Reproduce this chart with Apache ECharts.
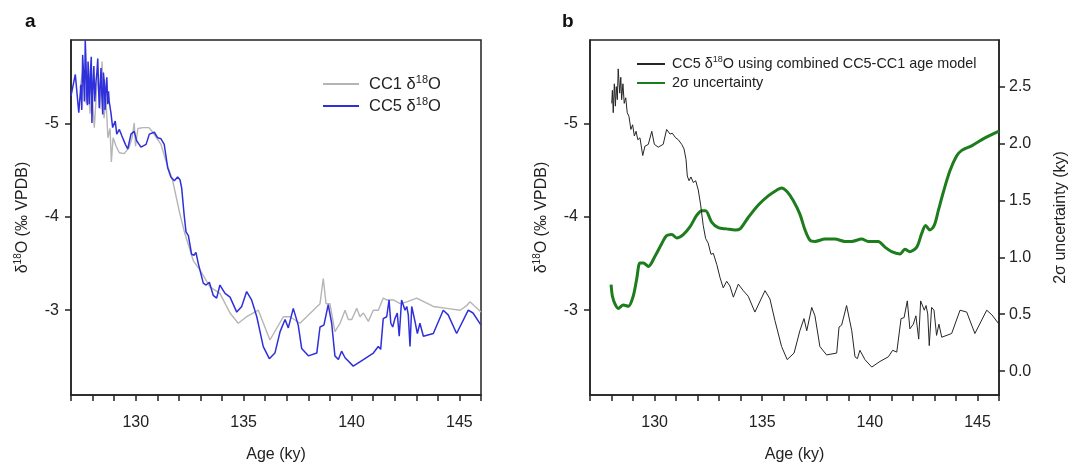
<!DOCTYPE html>
<html>
<head>
<meta charset="utf-8">
<script src="https://cdn.jsdelivr.net/npm/echarts@6/dist/echarts.min.js"></script>
<style>
html,body{margin:0;padding:0;background:#fff;}
#chart{width:1070px;height:468px;}
</style>
</head>
<body>
<div id="chart"></div>
<script>
// ---- Panel a: CC1 (grey) ----
const cc1Age = [127.42,127.56,127.70,127.79,127.88,127.97,128.08,128.16,128.25,128.34,128.44,128.53,128.62,128.71,128.81,128.87,128.95,129.09,129.24,129.47,129.70,129.83,129.93,129.99,130.10,130.34,130.61,130.79,131.17,131.40,131.71,132.05,132.28,132.67,132.98,133.44,133.90,134.37,134.75,135.14,135.68,136.22,136.84,137.15,137.61,138.54,138.69,138.82,139.00,139.23,139.47,139.70,139.85,140.01,140.24,140.39,140.55,140.78,141.01,141.24,141.47,141.63,141.94,142.25,142.56,143.02,143.79,144.41,145.03,145.34,145.49,146.00];
const cc1D18O = [-5.38,-5.59,-5.22,-5.48,-5.11,-5.32,-4.96,-5.27,-5.54,-5.16,-5.67,-5.06,-5.27,-4.85,-4.95,-4.59,-4.85,-4.76,-4.69,-4.68,-4.75,-4.85,-5.01,-4.76,-4.95,-4.96,-4.96,-4.91,-4.78,-4.60,-4.39,-4.03,-3.82,-3.53,-3.43,-3.25,-3.18,-2.97,-2.86,-2.93,-3.00,-2.68,-2.93,-2.93,-2.86,-3.07,-3.34,-3.07,-3.07,-2.77,-2.86,-3.00,-2.90,-2.90,-3.02,-2.93,-2.97,-2.88,-3.00,-3.00,-3.13,-3.11,-3.11,-3.07,-3.09,-3.13,-3.04,-3.02,-3.00,-3.05,-3.09,-2.98];

// ---- Panel a: CC5 (blue) ----
const cc5Age = [127.00,127.20,127.36,127.46,127.50,127.54,127.58,127.62,127.64,127.66,127.70,127.73,127.76,127.79,127.82,127.85,127.88,127.91,127.94,127.97,128.00,128.03,128.06,128.10,128.13,128.16,128.20,128.24,128.28,128.31,128.35,128.39,128.43,128.47,128.50,128.54,128.58,128.62,128.66,128.70,128.74,128.77,128.85,128.93,129.05,129.12,129.24,129.36,129.52,129.63,129.78,129.93,130.04,130.24,130.48,130.63,130.86,131.02,131.17,131.32,131.48,131.63,131.79,131.94,132.05,132.13,132.24,132.33,132.44,132.59,132.70,132.79,132.90,133.13,133.26,133.41,133.59,133.75,133.90,134.14,134.37,134.68,134.91,135.14,135.37,135.61,135.91,136.19,136.45,136.69,136.92,137.07,137.30,137.53,137.69,138.00,138.39,138.54,138.72,138.92,139.08,139.23,139.39,139.54,139.70,140.08,140.55,141.01,141.24,141.35,141.47,141.63,141.74,141.82,141.91,142.01,142.12,142.21,142.32,142.40,142.48,142.56,142.63,142.71,142.79,142.94,143.05,143.17,143.33,143.79,144.25,144.48,144.87,145.41,145.63,146.00];
const cc5D18O = [-5.30,-5.53,-5.12,-5.42,-5.15,-5.74,-5.55,-5.24,-5.45,-5.90,-5.62,-5.31,-5.20,-5.67,-5.52,-5.21,-5.35,-5.60,-5.72,-5.01,-5.30,-5.49,-5.62,-5.24,-5.35,-5.46,-5.55,-5.70,-5.38,-5.17,-5.40,-5.60,-5.30,-5.10,-5.55,-5.46,-5.15,-5.39,-5.50,-5.21,-5.35,-5.24,-5.12,-4.96,-5.03,-4.89,-4.94,-4.87,-4.78,-4.73,-4.89,-4.92,-4.82,-4.75,-4.78,-4.89,-4.91,-4.85,-4.84,-4.78,-4.53,-4.43,-4.39,-4.43,-4.40,-4.31,-4.03,-3.84,-3.80,-3.60,-3.59,-3.62,-3.50,-3.29,-3.27,-3.30,-3.16,-3.13,-3.27,-3.18,-3.14,-2.98,-3.04,-3.20,-3.11,-2.93,-2.61,-2.48,-2.54,-2.77,-2.90,-2.81,-3.02,-2.84,-2.59,-2.51,-2.54,-2.82,-2.84,-3.06,-2.86,-2.51,-2.47,-2.56,-2.49,-2.40,-2.47,-2.54,-2.61,-2.58,-2.91,-2.93,-3.11,-2.86,-2.82,-2.91,-2.97,-2.72,-3.11,-3.13,-3.00,-3.04,-2.95,-2.61,-3.04,-2.88,-2.75,-2.86,-2.72,-2.75,-3.00,-2.95,-2.75,-3.00,-2.97,-2.84];

// ---- Panel b: CC5 on combined CC5-CC1 age model (black) ----
const combAge = [128.01,128.04,128.08,128.13,128.18,128.22,128.27,128.31,128.38,128.43,128.47,128.53,128.59,128.66,128.73,128.81,128.90,128.98,129.06,129.14,129.22,129.32,129.45,129.55,129.71,129.87,129.99,130.17,130.40,130.56,130.72,130.82,130.98,131.10,131.26,131.37,131.46,131.52,131.60,131.69,131.80,131.91,132.03,132.14,132.26,132.37,132.49,132.62,132.73,132.89,133.04,133.19,133.35,133.50,133.66,133.89,134.12,134.35,134.66,135.13,135.36,135.59,135.90,136.16,136.48,136.75,136.94,137.07,137.30,137.45,137.68,137.99,138.46,138.57,138.69,138.92,139.16,139.31,139.42,139.54,139.77,140.09,140.47,140.86,141.06,141.25,141.45,141.59,141.74,141.86,142.02,142.14,142.27,142.36,142.45,142.53,142.61,142.69,142.76,142.87,142.98,143.10,143.21,143.34,143.80,144.19,144.50,144.88,145.43,145.67,146.00];
const combD18O = [-5.22,-5.36,-5.12,-5.43,-5.19,-5.40,-5.26,-5.59,-5.33,-5.50,-5.26,-5.43,-5.22,-5.28,-5.12,-5.08,-4.94,-4.99,-4.87,-4.92,-4.83,-4.85,-4.66,-4.76,-4.78,-4.92,-4.78,-4.75,-4.78,-4.94,-4.89,-4.90,-4.85,-4.83,-4.78,-4.73,-4.62,-4.44,-4.39,-4.43,-4.37,-4.39,-4.29,-4.13,-3.91,-3.77,-3.72,-3.60,-3.61,-3.49,-3.35,-3.24,-3.31,-3.26,-3.14,-3.28,-3.21,-3.15,-2.98,-3.21,-3.12,-2.89,-2.61,-2.47,-2.54,-2.78,-2.91,-2.78,-3.03,-2.94,-2.61,-2.52,-2.54,-2.82,-2.84,-3.05,-2.78,-2.50,-2.48,-2.57,-2.47,-2.39,-2.45,-2.50,-2.57,-2.55,-2.91,-2.92,-3.10,-2.80,-2.85,-2.94,-2.69,-3.10,-3.12,-3.00,-3.05,-2.96,-2.62,-3.03,-3.00,-2.73,-2.85,-2.71,-2.75,-3.00,-2.98,-2.75,-3.00,-2.95,-2.85];

// ---- Panel b: 2 sigma age uncertainty (green) ----
const uncAge = [127.98,128.04,128.16,128.31,128.55,128.78,129.01,129.17,129.32,129.48,129.71,130.02,130.33,130.56,130.80,131.03,131.33,131.65,131.96,132.19,132.37,132.65,132.96,133.35,133.74,133.97,134.35,134.82,135.28,135.67,135.90,136.14,136.44,136.75,136.99,137.22,137.45,137.92,138.38,138.84,139.16,139.62,139.93,140.39,140.70,141.01,141.40,141.63,141.86,142.18,142.41,142.59,142.79,142.99,143.18,143.41,143.72,144.03,144.27,144.73,145.35,146.00];
const uncVal = [0.76,0.66,0.59,0.55,0.58,0.57,0.66,0.81,0.95,0.95,0.92,1.01,1.12,1.19,1.20,1.17,1.20,1.27,1.37,1.41,1.41,1.31,1.26,1.25,1.24,1.25,1.35,1.46,1.54,1.59,1.61,1.58,1.50,1.38,1.24,1.15,1.14,1.16,1.16,1.14,1.14,1.16,1.14,1.14,1.09,1.05,1.03,1.07,1.05,1.09,1.21,1.28,1.24,1.28,1.41,1.57,1.76,1.89,1.94,1.98,2.05,2.11];

// ---- Tick labels ----
const ageTickLabels = [130, 135, 140, 145];
const ageMinorTicks = [127,128,129,130,131,132,133,134,135,136,137,138,139,140,141,142,143,144,145,146];
const d18OTickLabels = [-5, -4, -3];
const uncTickLabels = [0, 0.5, 1.0, 1.5, 2.0, 2.5];

const zip = (a, b) => a.map((v, i) => [v, b[i]]);
const FONT = '"Liberation Sans", Arial, sans-serif';
const INK = '#222';
const supRich = (fs) => ({ s: { fontSize: fs, verticalAlign: 'top', lineHeight: fs, fontFamily: FONT, color: INK } });

function xAxisFor(gi) {
  return {
    type: 'value', gridIndex: gi, min: 127, max: 146,
    axisLine: { show: true, onZero: false, lineStyle: { color: INK, width: 1.5 } },
    axisTick: { show: true, customValues: ageMinorTicks, length: 6, lineStyle: { color: INK, width: 1.5 } },
    axisLabel: { customValues: ageTickLabels, fontSize: 16, color: INK, fontFamily: FONT, margin: 20 },
    splitLine: { show: false },
    name: 'Age (ky)', nameLocation: 'middle', nameGap: 52,
    nameTextStyle: { fontSize: 16, color: INK, fontFamily: FONT }
  };
}
function d18OAxisFor(gi) {
  return {
    type: 'value', gridIndex: gi, inverse: true, min: -5.9, max: -2.09, position: 'left',
    axisLine: { show: true, onZero: false, lineStyle: { color: INK, width: 1.5 } },
    axisTick: { show: true, customValues: d18OTickLabels, length: 6, lineStyle: { color: INK, width: 1.5 } },
    axisLabel: { customValues: d18OTickLabels, fontSize: 16, color: INK, fontFamily: FONT, margin: 12 },
    splitLine: { show: false },
    name: 'δ{s|18}O (‰ VPDB)', nameLocation: 'middle', nameRotate: 90, nameGap: 38,
    nameTextStyle: { fontSize: 16, lineHeight: 20, color: INK, fontFamily: FONT, rich: supRich(10) }
  };
}

const option = {
  animation: false,
  backgroundColor: '#fff',
  title: [
    { text: 'a', left: 20, top: 7, textStyle: { fontSize: 19, fontWeight: 'bold', color: '#111', fontFamily: FONT } },
    { text: 'b', left: 557, top: 7, textStyle: { fontSize: 19, fontWeight: 'bold', color: '#111', fontFamily: FONT } }
  ],
  grid: [
    { left: 71, top: 40, width: 410, height: 361, show: true, borderColor: INK, borderWidth: 1.5, containLabel: false },
    { left: 590, top: 40, width: 409, height: 361, show: true, borderColor: INK, borderWidth: 1.5, containLabel: false }
  ],
  xAxis: [xAxisFor(0), xAxisFor(1)],
  yAxis: [
    d18OAxisFor(0),
    d18OAxisFor(1),
    {
      type: 'value', gridIndex: 1, position: 'right', min: -0.21, max: 2.91,
      axisLine: { show: true, onZero: false, lineStyle: { color: INK, width: 1.5 } },
      axisTick: { show: true, customValues: uncTickLabels, length: 6, lineStyle: { color: INK, width: 1.5 } },
      axisLabel: { customValues: uncTickLabels, fontSize: 16, color: INK, fontFamily: FONT, margin: 10,
                   formatter: v => Number(v).toFixed(1) },
      splitLine: { show: false },
      name: '2σ uncertainty (ky)', nameLocation: 'middle', nameRotate: 90, nameGap: 54,
      nameTextStyle: { fontSize: 16, color: INK, fontFamily: FONT }
    }
  ],
  legend: [
    {
      data: ['CC1 δ18O', 'CC5 δ18O'], orient: 'vertical', left: 317, top: 69,
      itemWidth: 36, itemHeight: 14, itemGap: 2,
      itemStyle: { opacity: 0 },
      formatter: n => n.replace('δ18O', 'δ{s|18}O'),
      textStyle: { fontSize: 16.5, lineHeight: 20, color: INK, fontFamily: FONT, padding: [0, 0, 0, 5], rich: supRich(11) },
      selectedMode: false
    },
    {
      data: ['CC5 δ18O using combined CC5-CC1 age model', '2σ uncertainty'], orient: 'vertical', left: 631, top: 50,
      itemWidth: 28, itemHeight: 14, itemGap: 1,
      itemStyle: { opacity: 0 },
      formatter: n => n.replace('δ18O', 'δ{s|18}O'),
      textStyle: { fontSize: 14.4, lineHeight: 18, color: INK, fontFamily: FONT, padding: [0, 0, 0, 2], rich: supRich(9) },
      selectedMode: false
    }
  ],
  series: [
    { name: 'CC1 δ18O', type: 'line', xAxisIndex: 0, yAxisIndex: 0, data: zip(cc1Age, cc1D18O),
      symbol: 'none', lineStyle: { color: '#b5b5b5', width: 1.4 }, itemStyle: { color: '#b5b5b5' } },
    { name: 'CC5 δ18O', type: 'line', xAxisIndex: 0, yAxisIndex: 0, data: zip(cc5Age, cc5D18O),
      symbol: 'none', lineStyle: { color: '#2f2fdc', width: 1.5 }, itemStyle: { color: '#2f2fdc' } },
    { name: '2σ uncertainty', type: 'line', xAxisIndex: 1, yAxisIndex: 2, data: zip(uncAge, uncVal),
      symbol: 'none', smooth: 0.3, lineStyle: { color: '#1d7d1d', width: 3 }, itemStyle: { color: '#1d7d1d' } },
    { name: 'CC5 δ18O using combined CC5-CC1 age model', type: 'line', xAxisIndex: 1, yAxisIndex: 1, data: zip(combAge, combD18O),
      symbol: 'none', lineStyle: { color: '#262626', width: 1 }, itemStyle: { color: '#262626' } }
  ]
};

const chart = echarts.init(document.getElementById('chart'), null, { renderer: 'canvas' });
chart.setOption(option);
</script>
</body>
</html>
